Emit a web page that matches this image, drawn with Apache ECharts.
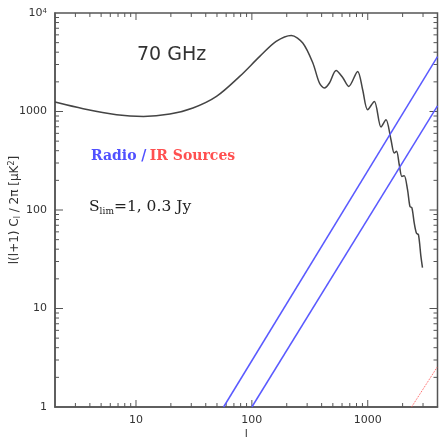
<!DOCTYPE html>
<html>
<head>
<meta charset="utf-8">
<script src="https://cdn.jsdelivr.net/npm/echarts@6/dist/echarts.min.js"></script>
<style>
  html, body { margin: 0; background: #fff; }
  #chart { width: 439px; height: 441px; }
</style>
</head>
<body>
<div id="chart"></div>
<script>
// CMB power spectrum at 70 GHz
const ells = [2, 3.5, 6.8, 11.6, 19.6, 31, 49.5, 78.5, 117, 162, 219, 275, 336, 383, 423, 467, 533, 610, 685, 818, 904, 998, 1140, 1302, 1437, 1587, 1694, 1773, 1871, 1973, 2065, 2205, 2312, 2406, 2518, 2635, 2742, 2875, 2968];
const cmb = [1247, 1067, 928, 892, 943, 1085, 1423, 2271, 3625, 5150, 5925, 4958, 3108, 1946, 1732, 1946, 2614, 2200, 1798, 2553, 1665, 1043, 1266, 696, 826, 517, 379, 394, 288, 219, 223, 161, 109, 105, 74, 58, 56, 34, 26];

// point source power, S_lim = 1 Jy and 0.3 Jy (radio), IR sources
const radio1L = [57, 4000];
const radio1 = [1, 3600];
const radio03L = [100, 4000];
const radio03 = [1, 1140];
const irL = [2390, 4000];
const ir = [1, 2.57];

// tick marks (drawn on all four sides, pointing inward)
const xMajor = [10, 100, 1000];
const xMinor = [3, 4, 5, 6, 7, 8, 9, 20, 30, 40, 50, 60, 70, 80, 90, 200, 300, 400, 500, 600, 700, 800, 900, 2000, 3000];
const yMajor = [10, 100, 1000];
const yMinor = [2, 3, 4, 5, 6, 7, 8, 9, 20, 30, 40, 50, 60, 70, 80, 90, 200, 300, 400, 500, 600, 700, 800, 900, 2000, 3000, 4000, 5000, 6000, 7000, 8000, 9000];

const AXIS = '#555';
const FONT = 'DejaVu Sans';
const MAJOR_LEN = 7, MINOR_LEN = 4;

const pair = (xs, ys) => xs.map((x, i) => [x, ys[i]]);

const xTicks = xMajor.map(v => [v, 1, MAJOR_LEN]).concat(xMinor.map(v => [v, 1, MINOR_LEN]));
const yTicks = yMajor.map(v => [2, v, MAJOR_LEN + 1]).concat(yMinor.map(v => [2, v, MINOR_LEN]));

function tickItem(horizontal) {
  return function (params, api) {
    const cs = params.coordSys;
    const p = api.coord([api.value(0), api.value(1)]);
    const len = api.value(2);
    const style = { stroke: AXIS, lineWidth: 1 };
    if (horizontal) {
      const b = cs.y + cs.height, t = cs.y;
      return { type: 'group', children: [
        { type: 'line', shape: { x1: p[0], y1: b, x2: p[0], y2: b - len }, style },
        { type: 'line', shape: { x1: p[0], y1: t, x2: p[0], y2: t + len }, style }
      ] };
    }
    const l = cs.x, r = cs.x + cs.width;
    return { type: 'group', children: [
      { type: 'line', shape: { x1: l, y1: p[1], x2: l + len, y2: p[1] }, style },
      { type: 'line', shape: { x1: r, y1: p[1], x2: r - len, y2: p[1] }, style }
    ] };
  };
}

const chart = echarts.init(document.getElementById('chart'), null, { renderer: 'canvas' });

chart.setOption({
  animation: false,
  backgroundColor: '#fff',
  grid: {
    left: 55, top: 13, right: 1.5, bottom: 34, outerBoundsMode: 'none',
    show: true, borderColor: AXIS, borderWidth: 1.5, backgroundColor: 'transparent'
  },
  xAxis: {
    type: 'log', logBase: 10, min: 2, max: 4000,
    axisLine: { show: true, lineStyle: { color: AXIS, width: 1.5 } },
    axisTick: { show: false },
    axisLabel: {
      margin: 8, color: '#333', fontFamily: FONT, fontSize: 11,
      showMinLabel: false, showMaxLabel: false, formatter: v => String(v)
    },
    splitLine: { show: false },
    name: 'l', nameLocation: 'middle', nameGap: 22, nameMoveOverlap: false,
    nameTextStyle: { color: '#333', fontFamily: FONT, fontSize: 11 }
  },
  yAxis: {
    type: 'log', logBase: 10, min: 1, max: 10000,
    axisLine: { show: true, lineStyle: { color: AXIS, width: 1.5 } },
    axisTick: { show: false },
    axisLabel: {
      margin: 8, color: '#333', fontFamily: FONT, fontSize: 11,
      formatter: v => v >= 10000 ? '{b|10}{p|4}' : String(v),
      rich: {
        b: { fontFamily: FONT, fontSize: 11, color: '#333' },
        p: { fontFamily: FONT, fontSize: 7, color: '#333', verticalAlign: 'top', lineHeight: 8 }
      }
    },
    splitLine: { show: false },
    name: '{a|l(l+1) C}{s|l}{a| / 2π [μK}{p|2}{a|]}',
    nameLocation: 'middle', nameRotate: 90, nameGap: 33, nameMoveOverlap: false,
    nameTextStyle: {
      color: '#333', fontFamily: FONT, fontSize: 12,
      rich: {
        a: { fontFamily: FONT, fontSize: 12, color: '#333', lineHeight: 14 },
        s: { fontFamily: FONT, fontSize: 8, color: '#333', verticalAlign: 'bottom', lineHeight: 8 },
        p: { fontFamily: FONT, fontSize: 8, color: '#333', verticalAlign: 'top', lineHeight: 8 }
      }
    }
  },
  series: [
    {
      name: 'CMB', type: 'line', data: pair(ells, cmb), smooth: 0.3, showSymbol: false,
      lineStyle: { color: '#444', width: 1.5 }
    },
    {
      name: 'Radio 1 Jy', type: 'line', data: pair(radio1L, radio1), showSymbol: false,
      lineStyle: { color: '#5a5aff', width: 1.5 }
    },
    {
      name: 'Radio 0.3 Jy', type: 'line', data: pair(radio03L, radio03), showSymbol: false,
      lineStyle: { color: '#5a5aff', width: 1.5 }
    },
    {
      name: 'IR', type: 'line', data: pair(irL, ir), showSymbol: false,
      lineStyle: { color: '#ff5a5a', width: 1, type: 'dotted' }
    },
    {
      name: 'xTicks', type: 'custom', data: xTicks, encode: { x: 0, y: 1 },
      renderItem: tickItem(true), clip: false, silent: true
    },
    {
      name: 'yTicks', type: 'custom', data: yTicks, encode: { x: 0, y: 1 },
      renderItem: tickItem(false), clip: false, silent: true
    }
  ],
  graphic: [
    {
      type: 'text', left: 137, top: 46,
      style: { text: '70 GHz', font: '19px "DejaVu Sans"', fill: '#333' }
    },
    {
      type: 'text', left: 91, top: 149,
      style: {
        text: '{b|Radio /} {r|IR Sources}',
        rich: {
          b: { fill: '#5050ff', font: 'bold 14px "DejaVu Serif"' },
          r: { fill: '#ff5050', font: 'bold 14px "DejaVu Serif"' }
        }
      }
    },
    {
      type: 'text', left: 89, top: 199,
      style: {
        text: '{a|S}{s|lim}{a|=1, 0.3 Jy}',
        rich: {
          a: { fill: '#222', font: '15.5px "DejaVu Serif"', lineHeight: 18 },
          s: { fill: '#222', font: '9px "DejaVu Serif"', verticalAlign: 'bottom', lineHeight: 9 }
        }
      }
    }
  ]
});
</script>
</body>
</html>
